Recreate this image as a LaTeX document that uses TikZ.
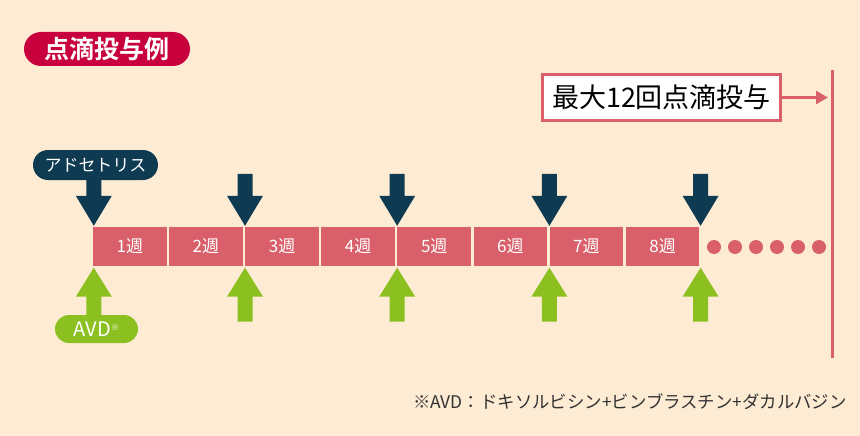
\documentclass[tikz,border=0pt]{standalone}
\usepackage{fontspec}
\setmainfont{Noto Sans CJK JP}[BoldFont={Noto Sans CJK JP Bold}]
\usepackage{tikz}
\usepackage{xcolor}
\usetikzlibrary{calc,positioning,arrows.meta}

\definecolor{cream}{HTML}{FDEBD3}
\definecolor{pinkbar}{HTML}{D9606B}
\definecolor{navy}{HTML}{0E3A52}
\definecolor{leaf}{HTML}{8CC021}
\definecolor{crimson}{HTML}{C8003E}
\definecolor{notegray}{HTML}{333333}

\tikzset{
  week/.style={fill=pinkbar, text=white, minimum width=73.7pt, minimum height=39pt,
    inner sep=0pt, font=\fontsize{17}{17}\selectfont},
  pill/.style={text=white, inner sep=0pt},
  dotc/.style={circle, fill=pinkbar, minimum size=14pt, inner sep=0pt},
}

% block arrows, tip at #1, shaft length #2
\newcommand{\dnarrow}[2]{\fill[navy] (#1) -- ++(-18,-30) -- ++(10.5,0) -- ++(0,-#2) -- ++(15,0) -- ++(0,#2) -- ++(10.5,0) -- cycle;}
\newcommand{\uparr}[2]{\fill[leaf] (#1) -- ++(-18,29) -- ++(10.5,0) -- ++(0,#2) -- ++(15,0) -- ++(0,-#2) -- ++(10.5,0) -- cycle;}

\begin{document}
\begin{tikzpicture}[x=1pt, y=-1pt]
    \fill[cream] (0,0) rectangle (860,436);
    \useasboundingbox (0,0) rectangle (860,436);

         \node[pill, fill=crimson, minimum width=166pt, minimum height=34pt, rounded corners=17pt,
               font=\bfseries\fontsize{25}{25}\selectfont] (title) at (107,49) {点滴投与例};

         % weeks
         \node[week] (w1) at (129.85,246.5) {1週};
         \node[week, right=2pt of w1] (w2) {2週};
         \node[week, right=2pt of w2] (w3) {3週};
         \node[week, right=2pt of w3] (w4) {4週};
         \node[week, right=2pt of w4] (w5) {5週};
         \node[week, right=2pt of w5] (w6) {6週};
         \node[week, right=2pt of w6] (w7) {7週};
         \node[week, right=2pt of w7] (w8) {8週};

             \node[dotc] (d1) at (714,247) {};
             \node[dotc, right=6.6pt of d1] (d2) {};
             \node[dotc, right=6.6pt of d2] (d3) {};
             \node[dotc, right=6.6pt of d3] (d4) {};
             \node[dotc, right=6.6pt of d4] (d5) {};
             \node[dotc, right=6.6pt of d5] (d6) {};

         % adcetris
         \dnarrow{$(w1.north west)+(1,-1)$}{20}
         \dnarrow{$(w2.north east)!0.5!(w3.north west)+(1,-1)$}{22}
         \dnarrow{$(w4.north east)!0.5!(w5.north west)+(1,-1)$}{22}
         \dnarrow{$(w6.north east)!0.5!(w7.north west)+(1,-1)$}{22}
         \dnarrow{$(w8.north east)+(1,-1)$}{22}
             \node[pill, fill=navy, minimum width=125pt, minimum height=30pt, rounded corners=15pt,
                   font=\fontsize{17}{17}\selectfont] (adc) at (95.5,165) {アドセトリス};

         % AVD
         \uparr{$(w1.south west)+(1,1.5)$}{20}
         \uparr{$(w2.south east)!0.5!(w3.south west)+(1,1.5)$}{25}
         \uparr{$(w4.south east)!0.5!(w5.south west)+(1,1.5)$}{25}
         \uparr{$(w6.south east)!0.5!(w7.south west)+(1,1.5)$}{25}
         \uparr{$(w8.south east)+(1,1.5)$}{25}
             \node[pill, fill=leaf, minimum width=83pt, minimum height=28pt, rounded corners=14pt,
                   font=\fontsize{20}{20}\selectfont] (avd) at (96.5,329) {AVD\raisebox{6pt}{\fontsize{8}{8}\selectfont ※}};

         % max 12
         \coordinate (vtop) at (832,70);
         \coordinate (vbot) at (832,358);
         \draw[pinkbar, line width=3pt] (vtop) -- (vbot);
         \node[draw=pinkbar, line width=2.5pt, fill=white, minimum width=238pt, minimum height=46pt,
               font=\fontsize{27}{27}\selectfont] (maxbox) at (661.5,97.5) {最大12回点滴投与};
         \draw[pinkbar, line width=2.5pt, -{Triangle[length=12pt,width=13pt]}, shorten >=4pt]
               (maxbox.east) -- (maxbox.east -| vtop);

     \node[anchor=west, text=notegray, inner sep=0pt, font=\fontsize{17.4}{17.4}\selectfont] (note) at (413,402)
          {※AVD：ドキソルビシン+ビンブラスチン+ダカルバジン};

\end{tikzpicture}
\end{document}
